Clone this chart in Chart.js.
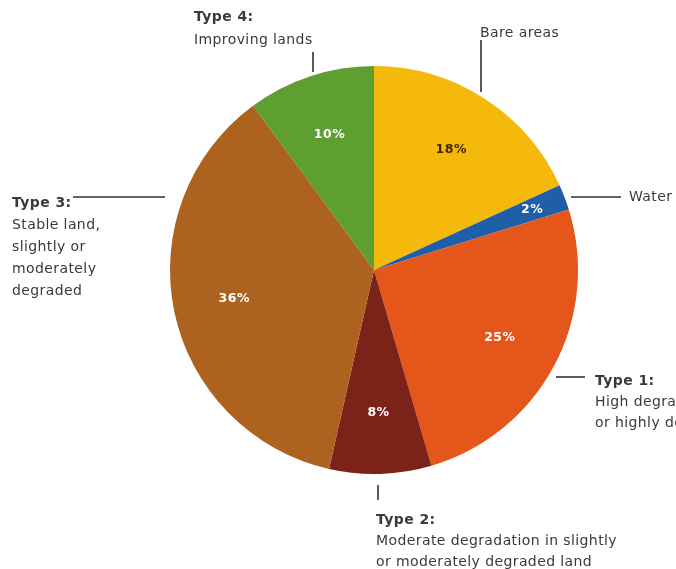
<!DOCTYPE html>
<html lang="en">

<head>
    <meta charset="UTF-8" />
    <script src="https://cdn.jsdelivr.net/npm/chart.js@4.4.1/dist/chart.umd.min.js"></script>
    <style>
        html, body { margin: 0; padding: 0; background: #fff; }
        #wrap { width: 676px; height: 569px; }
    </style>
</head>

<body>
    <div id="wrap"><canvas id="chart"></canvas></div>
    <script>
        const labels = ['Bare areas', 'Water', 'Type 1', 'Type 2', 'Type 3', 'Type 4'];
        const shares = [18, 2, 25, 8, 36, 10];
        const colors = ['#f5b90b', '#1f5ea8', '#e4561a', '#7b2318', '#ad621f', '#5f9e30'];
        const pctColors = ['#3b2a05', '#ffffff', '#ffffff', '#ffffff', '#ffffff', '#ffffff'];

        const font = '"DejaVu Sans", sans-serif';
        const ink = '#3a3a3a';

        // percentages inside the slices
        const pctPlugin = {
            id: 'pct',
            afterDatasetsDraw(chart) {
                const ctx = chart.ctx;
                const arcs = chart.getDatasetMeta(0).data;
                ctx.save();
                ctx.font = 'bold 12.5px ' + font;
                ctx.letterSpacing = '0.5px';
                ctx.textAlign = 'center';
                ctx.textBaseline = 'middle';
                arcs.forEach((arc, i) => {
                    const p = arc.getProps(['x', 'y', 'startAngle', 'endAngle', 'outerRadius']);
                    const mid = (p.startAngle + p.endAngle) / 2;
                    const r = p.outerRadius * (shares[i] < 5 ? 0.83 : 0.7);
                    ctx.fillStyle = pctColors[i];
                    ctx.fillText(shares[i] + '%', p.x + Math.cos(mid) * r, p.y + Math.sin(mid) * r);
                });
                ctx.restore();
            }
        };

        // callout text and leader lines around the pie
        const calloutPlugin = {
            id: 'callouts',
            afterDraw(chart) {
                const ctx = chart.ctx;
                ctx.save();
                ctx.strokeStyle = '#333';
                ctx.lineWidth = 1.6;
                ctx.letterSpacing = '0.4px';
                const line = (x1, y1, x2, y2) => {
                    ctx.beginPath();
                    ctx.moveTo(x1, y1);
                    ctx.lineTo(x2, y2);
                    ctx.stroke();
                };
                const text = (lines, x, y, step) => {
                    ctx.fillStyle = ink;
                    ctx.textBaseline = 'middle';
                    ctx.textAlign = 'left';
                    lines.forEach((t, k) => {
                        ctx.font = (k === 0 && t.startsWith('Type') ? 'bold ' : '') + '14px ' + font;
                        ctx.fillText(t, x, y + k * step);
                    });
                };

                line(313, 52, 313, 72);
                text(['Type 4:', 'Improving lands'], 194, 17, 23);

                line(481, 40, 481, 92);
                text(['Bare areas'], 480, 33, 22);

                line(73, 197, 165, 197);
                text(['Type 3:', 'Stable land,', 'slightly or', 'moderately', 'degraded'], 12, 203, 22);

                line(571, 197, 621, 197);
                text(['Water'], 629, 197, 22);

                line(556, 377, 585, 377);
                text(['Type 1:', 'High degradation', 'or highly degraded land'], 595, 381, 21);

                line(378, 485, 378, 500);
                text(['Type 2:', 'Moderate degradation in slightly', 'or moderately degraded land'], 376, 520, 21);

                ctx.restore();
            }
        };

        new Chart(document.getElementById('chart'), {
            type: 'pie',
            data: {
                labels: labels,
                datasets: [{
                    data: shares,
                    backgroundColor: colors,
                    borderWidth: 0
                }]
            },
            options: {
                responsive: true,
                maintainAspectRatio: false,
                animation: false,
                layout: {
                    padding: { top: 66, bottom: 95, left: 170, right: 98 }
                },
                plugins: {
                    legend: { display: false },
                    tooltip: { enabled: false }
                }
            },
            plugins: [pctPlugin, calloutPlugin]
        });
    </script>
</body>

</html>
